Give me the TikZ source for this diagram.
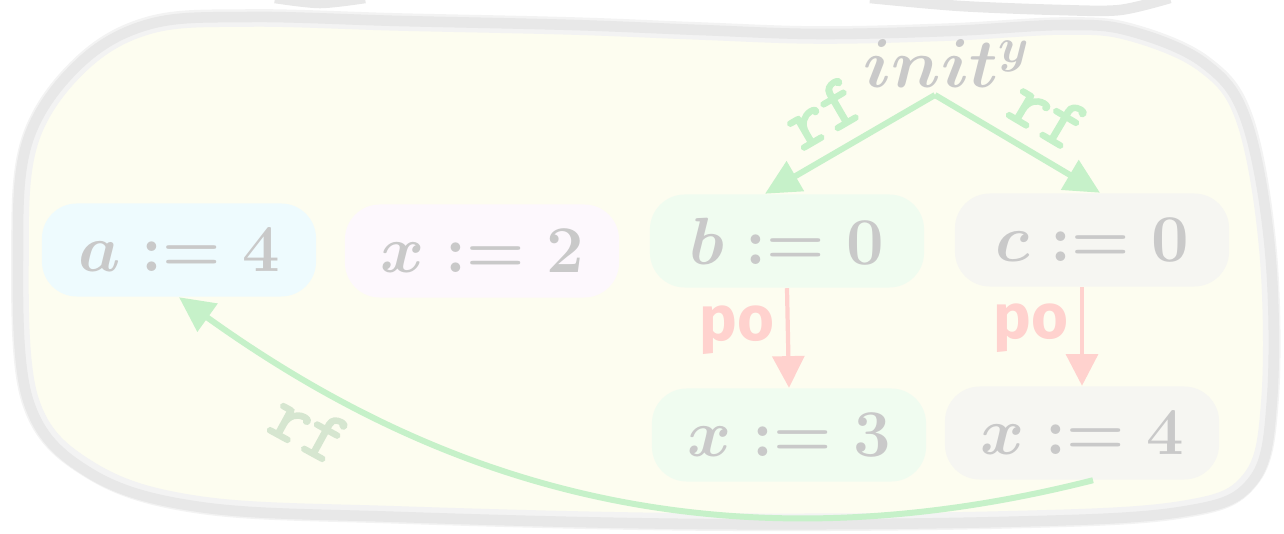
\RequirePackage{fix-cm}
\documentclass[tikz,border=0pt]{standalone}
\usepackage{fontspec}
\newfontfamily\pofont{Fira Sans}
\newfontfamily\rffont{Latin Modern Mono}[AutoFakeBold=3]
\usetikzlibrary{arrows.meta}
\definecolor{txtgray}{HTML}{C9C9C9}
\definecolor{rfgreen}{HTML}{C6F1C9}
\definecolor{rflight}{HTML}{D6E6D0}
\definecolor{pored}{HTML}{FFD2CE}
\definecolor{blobfill}{HTML}{FDFDF0}
\definecolor{blobline}{HTML}{E8E8E8}
\definecolor{bloblight}{HTML}{F3F3F3}
\definecolor{fa}{HTML}{EEFBFE}
\definecolor{fx}{HTML}{FDF8FD}
\definecolor{fb}{HTML}{F0FCF0}
\definecolor{fc}{HTML}{F6F6F2}

\begin{document}
\begin{tikzpicture}[x=0.01cm,y=-0.01cm,
  v/.style={rounded corners=0.35cm,minimum width=2.74cm,minimum height=0.93cm,text=txtgray,font=\fontsize{19}{23}\selectfont\boldmath},
  rf/.style={draw=rfgreen,line width=1.7pt,-{Triangle[length=10pt,width=9.5pt]}},
  po/.style={draw=pored,line width=1.2pt,-{Triangle[length=9pt,width=9pt]}},
  rfl/.style={text=rfgreen,font=\rffont\bfseries\fontsize{21}{25}\selectfont},
  pol/.style={text=pored,font=\pofont\bfseries\fontsize{18}{22}\selectfont}]
  \useasboundingbox (0,0) rectangle (1284,534);
  % the outer blob and the edge of the one above
  \draw[bloblight,line width=5pt,fill=blobfill] plot[smooth cycle,tension=0.6] coordinates {
    (150,25) (250,18) (400,22) (573,26) (700,31) (819,35) (950,32) (1065,26) (1130,32)
    (1204,64) (1245,120) (1268,250) (1270,400) (1250,480) (1180,510) (1000,520) (700,522)
    (400,515) (200,505) (90,470) (30,400) (20,250) (30,140) (80,65)};
  \draw[blobline,line width=3pt] plot[smooth cycle,tension=0.6] coordinates {
    (150,24) (250,17) (400,21) (573,25) (700,30) (819,34) (950,31) (1065,25) (1130,31)
    (1204,63) (1246,120) (1270,250) (1272,400) (1252,482) (1180,512) (1000,522) (700,524)
    (400,517) (200,507) (88,472) (28,400) (18,250) (28,140) (79,64)};
  \draw[blobline,line width=3pt] plot[smooth] coordinates {(275,-2) (320,3) (365,-2)};
  \draw[blobline,line width=3pt] plot[smooth] coordinates {(870,-2) (960,6) (1060,10) (1120,10) (1170,-2)};
  % events
  \node[v,fill=fa] (a) at (179,250) {$a := 4$};
  \node[v,fill=fx] (x2) at (482,251) {$x := 2$};
  \node[v,fill=fb] (b) at (787,241) {$b := 0$};
  \node[v,fill=fc] (c) at (1092,240) {$c := 0$};
  \node[v,fill=fb] (x3) at (789,435) {$x := 3$};
  \node[v,fill=fc] (x4) at (1082,433) {$x := 4$};
  \node[anchor=south,inner sep=0.07cm,text=txtgray,font=\fontsize{19.7}{24}\selectfont\boldmath] (init) at (947,95) {$init^y$};
  % relations
  \draw[rf] ([xshift=-0.12cm]init.south) -- node[rfl,sloped,above=1pt,pos=0.54] {rf} ([xshift=-0.22cm]b.north);
  \draw[rf] ([xshift=-0.12cm]init.south) -- node[rfl,sloped,above=1pt,pos=0.56] {rf} ([xshift=0.08cm]c.north);
  \draw[po] (b.south) -- node[pol,left=0pt,pos=0.42] {po} (x3.north);
  \draw[po] (x4.north |- c.south) -- node[pol,left=0pt,pos=0.42] {po} (x4.north);
  \draw[rf] ([xshift=0.11cm]x4.south) .. controls (700,580) and (420,470) .. node[rfl,text=rflight,sloped,below=1pt,pos=0.8] {rf} (a.south);
\end{tikzpicture}
\end{document}
